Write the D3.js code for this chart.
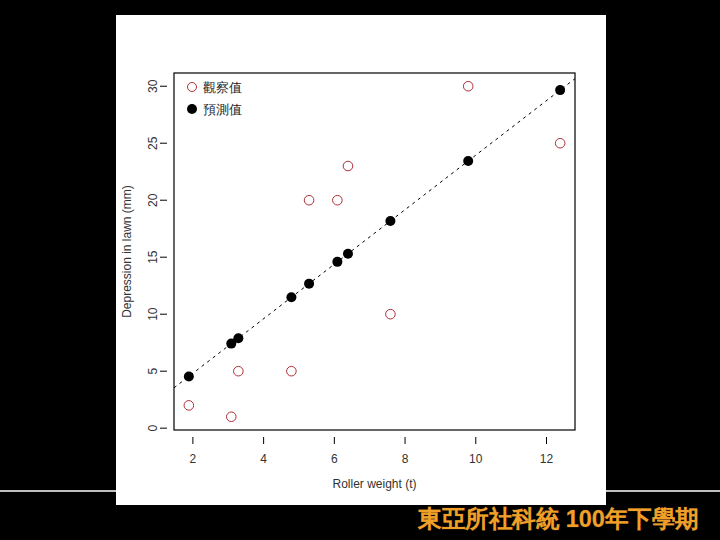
<!DOCTYPE html>
<html>
<head>
<meta charset="utf-8">
<script src="https://cdn.jsdelivr.net/npm/d3@7"></script>
<style>
  body { margin:0; background:#000; }
  svg text { font-family: "Liberation Sans", Arial, sans-serif; }
</style>
</head>
<body>
<div id="canvas"></div>
<script>
// lawn roller data
var weight = [1.9, 3.1, 3.3, 4.8, 5.3, 6.1, 6.4, 7.6, 9.8, 12.4];
var depression = [2, 1, 5, 5, 20, 20, 23, 10, 30, 25];
var predicted = [4.54, 7.42, 7.89, 11.48, 12.68, 14.59, 15.31, 18.18, 23.44, 29.66];
var slope = 2.392; // fitted line through the origin
var xTicks = [2, 4, 6, 8, 10, 12];
var yTicks = [0, 5, 10, 15, 20, 25, 30];
var legendLabels = ['觀察值', '預測值'];

var W = 720, H = 540;
var svg = d3.select('#canvas').append('svg')
    .attr('width', W).attr('height', H);

svg.append('rect').attr('width', W).attr('height', H).attr('fill', '#000');

// white thin rule across the slide
svg.append('line').attr('x1', 0).attr('x2', W).attr('y1', 491).attr('y2', 491)
    .attr('stroke', '#fff').attr('stroke-width', 1.5);

// white picture panel
svg.append('rect').attr('x', 116).attr('y', 15).attr('width', 490).attr('height', 490)
    .attr('fill', '#fff');

var m = {l:174, r:575, t:73, b:430};

var x = d3.scaleLinear().domain([1.48, 12.82]).range([m.l, m.r]);
var y = d3.scaleLinear().domain([-0.16, 31.16]).range([m.b, m.t]);

var plot = svg.append('g');

// axes
var axisX = d3.axisBottom(x).tickValues(xTicks).tickSize(7).tickPadding(10);
var axisY = d3.axisLeft(y).tickValues(yTicks).tickSize(7);

var gx = plot.append('g').attr('transform', 'translate(0,' + (m.b + 7) + ')').call(axisX);
gx.select('.domain').remove();
gx.selectAll('text').attr('font-size', 12).attr('fill', '#333')
    .attr('font-family', '"Liberation Sans", Arial, sans-serif');

var gy = plot.append('g').attr('transform', 'translate(' + (m.l - 7) + ',0)').call(axisY);
gy.select('.domain').remove();
gy.selectAll('text')
    .attr('font-size', 12).attr('fill', '#333')
    .attr('font-family', '"Liberation Sans", Arial, sans-serif')
    .attr('text-anchor', 'middle')
    .attr('transform', function(d){ return 'translate(' + (-14) + ',' + y(d) + ') rotate(-90)'; })
    .attr('x', 0).attr('y', 0).attr('dy', '0.35em');
gy.selectAll('.tick').attr('transform', 'translate(0,0)');
gy.selectAll('.tick line').attr('y1', function(d){ return y(d); }).attr('y2', function(d){ return y(d); });

// box
plot.append('rect').attr('x', m.l).attr('y', m.t)
    .attr('width', m.r - m.l).attr('height', m.b - m.t)
    .attr('fill', 'none').attr('stroke', '#000').attr('stroke-width', 1.2);

// axis titles
svg.append('text').attr('x', (m.l + m.r) / 2).attr('y', 488)
    .attr('text-anchor', 'middle').attr('font-size', 12).attr('fill', '#333')
    .text('Roller weight (t)');
svg.append('text').attr('transform', 'translate(131,' + ((m.t + m.b) / 2) + ') rotate(-90)')
    .attr('text-anchor', 'middle').attr('font-size', 12).attr('fill', '#333')
    .text('Depression in lawn (mm)');

// fitted line, clipped to box
svg.append('clipPath').attr('id', 'clip').append('rect')
    .attr('x', m.l).attr('y', m.t).attr('width', m.r - m.l).attr('height', m.b - m.t);
var x0 = x.domain()[0], x1 = x.domain()[1];
plot.append('line')
    .attr('clip-path', 'url(#clip)')
    .attr('x1', x(x0)).attr('y1', y(slope * x0))
    .attr('x2', x(x1)).attr('y2', y(slope * x1))
    .attr('stroke', '#000').attr('stroke-width', 1)
    .attr('stroke-dasharray', '3,4');

// observed
plot.selectAll('.obs').data(weight).enter().append('circle')
    .attr('class', 'obs')
    .attr('cx', function(d){ return x(d); })
    .attr('cy', function(d, i){ return y(depression[i]); })
    .attr('r', 4.8)
    .attr('fill', 'none').attr('stroke', '#b03038').attr('stroke-width', 1);

// predicted
plot.selectAll('.pred').data(weight).enter().append('circle')
    .attr('class', 'pred')
    .attr('cx', function(d){ return x(d); })
    .attr('cy', function(d, i){ return y(predicted[i]); })
    .attr('r', 5)
    .attr('fill', '#000');

// legend
var leg = svg.append('g');
leg.append('circle').attr('cx', 192).attr('cy', 87).attr('r', 4.5)
    .attr('fill', 'none').attr('stroke', '#b03038').attr('stroke-width', 1);
leg.append('circle').attr('cx', 192).attr('cy', 109).attr('r', 5).attr('fill', '#000');
leg.selectAll('text').data(legendLabels).enter().append('text')
    .attr('x', 203).attr('y', function(d, i){ return 87 + i * 22; })
    .attr('dy', '0.35em').attr('font-size', 13).attr('fill', '#222')
    .attr('font-family', '"Noto Sans CJK TC", sans-serif')
    .text(function(d){ return d; });

// slide caption
svg.append('text').attr('x', 418).attr('y', 527)
    .attr('font-family', '"Noto Sans CJK TC", sans-serif')
    .attr('font-weight', 'bold').attr('font-size', 24)
    .attr('textLength', 281).attr('lengthAdjust', 'spacingAndGlyphs')
    .attr('fill', '#f0a028')
    .attr('style', 'paint-order:stroke').attr('stroke', '#5a3a10').attr('stroke-width', 0.6)
    .text('東亞所社科統 100年下學期');
</script>
</body>
</html>
